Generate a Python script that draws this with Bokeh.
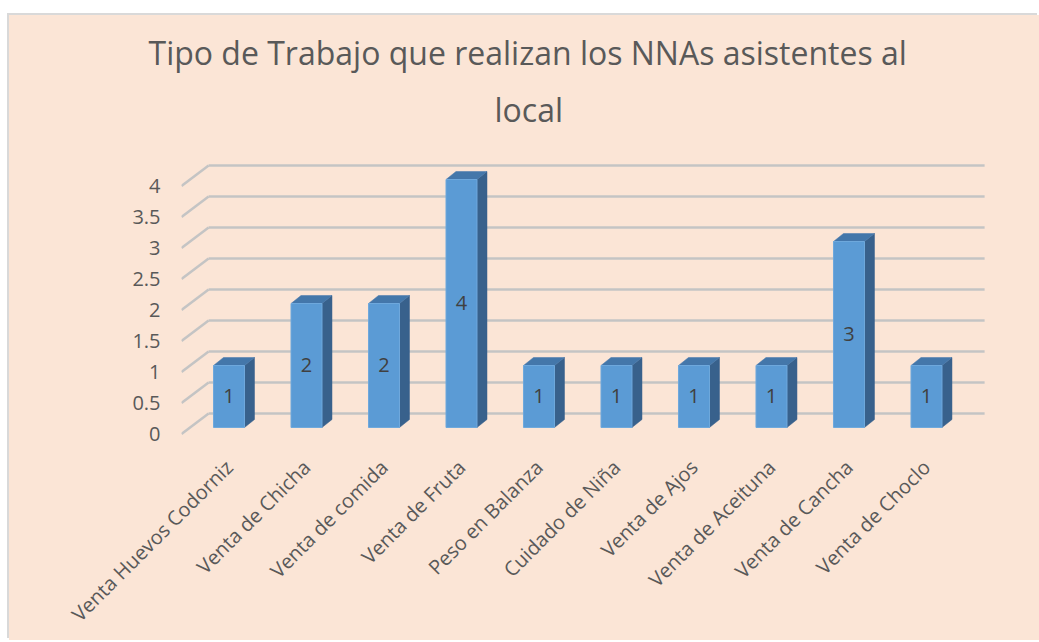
import math
from bokeh.plotting import figure
from bokeh.models import FixedTicker, Title, ColumnDataSource, Range1d
from bokeh.core.properties import value
from bokeh.embed import file_html
from bokeh.resources import INLINE

# ---- data ----
categories = ["Venta Huevos Codorniz", "Venta de Chicha", "Venta de comida",
              "Venta de Fruta", "Peso en Balanza", "Cuidado de Niña",
              "Venta de Ajos", "Venta de Aceituna", "Venta de Cancha",
              "Venta de Choclo"]
counts = [1, 2, 2, 4, 1, 1, 1, 1, 3, 1]
y_ticks = [0, 0.5, 1, 1.5, 2, 2.5, 3, 3.5, 4]
y_tick_labels = ["0", "0.5", "1", "1.5", "2", "2.5", "3", "3.5", "4"]
title_line1 = "Tipo de Trabajo que realizan los NNAs asistentes al"
title_line2 = "local"

# ---- style constants ----
FONT = "Open Sans"
BG = "#FBE5D6"
TXT = "#595959"
X_START, X_END = -0.613, 9.826
Y_START, Y_END = -0.1855, 4.734
WALL_DX, WALL_DY = 0.35, 0.33      # depth of the back wall
BAR_HALF = 0.2
BAR_BASE = 0.105                   # bar front sits slightly behind the floor front
BAR_DX, BAR_DY = 0.129, 0.129      # bar depth
FRONT, TOP, SIDE = "#5B9BD5", "#4477AA", "#38618C"

p = figure(width=1030, height=625, output_backend="svg", toolbar_location=None,
           x_range=Range1d(X_START, X_END), y_range=Range1d(Y_START, Y_END),
           min_border_left=172, min_border_right=49, min_border_top=125,
           min_border_bottom=195, title=None, margin=(15, 0, 0, 9),
           styles={"box-shadow": "-2px -2px 0 0 #D9D9D9",
                   "background-color": BG})
p.background_fill_color = None
p.border_fill_color = None
p.outline_line_color = None
p.xgrid.visible = False
p.ygrid.visible = False

# titles (second line added first so it sits closer to the plot)
p.add_layout(Title(text=title_line2, align="left", offset=313, standoff=20,
                   text_font=FONT, text_font_size="32px", text_font_style="normal",
                   text_color=TXT), "above")
p.add_layout(Title(text=title_line1, align="left", offset=-33, standoff=4,
                   text_font=FONT, text_font_size="32px", text_font_style="normal",
                   text_color=TXT), "above")

# axes
xa = p.xaxis[0]
xa.ticker = FixedTicker(ticks=list(range(len(categories))))
xa.major_label_overrides = {i: c for i, c in enumerate(categories)}
xa.major_label_orientation = math.pi / 4
xa.axis_line_color = None
xa.major_tick_line_color = None
xa.minor_tick_line_color = None
xa.major_label_standoff = 12
xa.major_label_text_font = FONT
xa.major_label_text_font_size = "20px"
xa.major_label_text_color = TXT

ya = p.yaxis[0]
ya.ticker = FixedTicker(ticks=y_ticks)
ya.major_label_overrides = {t: l for t, l in zip(y_ticks, y_tick_labels)}
ya.axis_line_color = None
ya.major_tick_line_color = None
ya.minor_tick_line_color = None
ya.major_tick_out = 0
ya.major_tick_in = 0
ya.major_label_standoff = 21
ya.major_label_text_font = FONT
ya.major_label_text_font_size = "20px"
ya.major_label_text_color = TXT

# 3D gridlines: floor/side diagonals and back-wall lines
n = len(categories)
wall_left = X_START + WALL_DX
wall_right = n - 1 + 0.75
grid = ColumnDataSource(dict(
    x0=[X_START] * len(y_ticks), y0=y_ticks,
    x1=[wall_left] * len(y_ticks), y1=[t + WALL_DY for t in y_ticks],
    x2=[wall_right] * len(y_ticks)))
p.segment(x0="x0", y0="y0", x1="x1", y1="y1", source=grid,
          line_color="#C4C4C4", line_width=2.5)
p.segment(x0="x1", y0="y1", x1="x2", y1="y1", source=grid,
          line_color="#C4C4C4", line_width=2.5)

# bars
xs = list(range(n))
lefts = [x - BAR_HALF for x in xs]
rights = [x + BAR_HALF for x in xs]
bottoms = [BAR_BASE] * n
tops = [BAR_BASE + c for c in counts]

side_x = [[r, r + BAR_DX, r + BAR_DX, r] for r in rights]
side_y = [[b, b + BAR_DY, t + BAR_DY, t] for b, t in zip(bottoms, tops)]
top_x = [[l, r, r + BAR_DX, l + BAR_DX] for l, r in zip(lefts, rights)]
top_y = [[t, t, t + BAR_DY, t + BAR_DY] for t in tops]

p.patches(side_x, side_y, fill_color=SIDE, line_color=SIDE, line_width=0.5)
p.patches(top_x, top_y, fill_color=TOP, line_color=TOP, line_width=0.5)
p.quad(left=lefts, right=rights, bottom=bottoms, top=tops,
       fill_color=FRONT, line_color="#6FA8DC", line_width=1)

# data labels
p.text(x=xs, y=[BAR_BASE + c / 2 for c in counts], text=[str(c) for c in counts],
       text_font=value(FONT), text_font_size="20px", text_color="#404040",
       text_align="center", text_baseline="middle")

open("out.html", "w").write(file_html(p, INLINE))
